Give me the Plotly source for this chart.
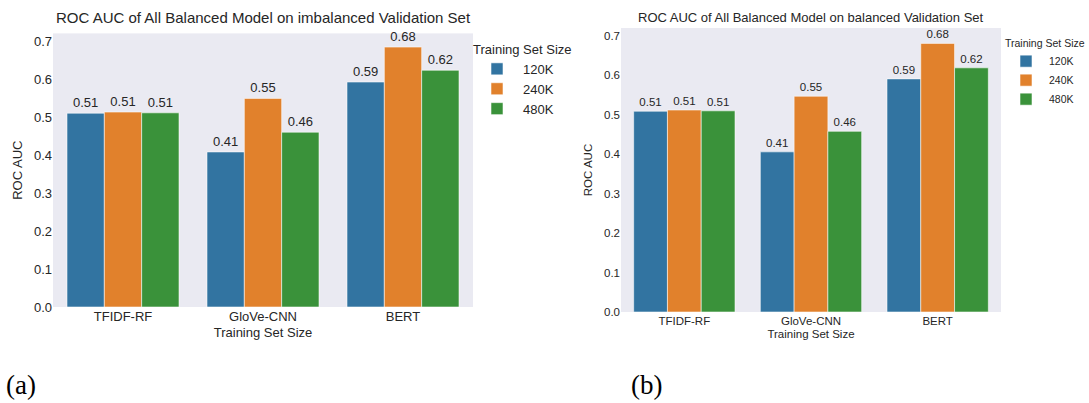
import plotly.graph_objects as go

categories = ["TFIDF-RF", "GloVe-CNN", "BERT"]
sizes = ["120K", "240K", "480K"]
imb_120k = [0.510, 0.408, 0.592]
imb_240k = [0.513, 0.549, 0.684]
imb_480k = [0.511, 0.460, 0.623]
bal_120k = [0.509, 0.406, 0.591]
bal_240k = [0.512, 0.547, 0.681]
bal_480k = [0.510, 0.458, 0.619]
colors = ["#3274a1", "#e1812c", "#3a923a"]

W, H = 1089, 403
FONT = "Liberation Sans, Arial, sans-serif"
TXT = "#262626"

fig = go.Figure()
left = [imb_120k, imb_240k, imb_480k]
right = [bal_120k, bal_240k, bal_480k]
for i, s in enumerate(sizes):
    fig.add_trace(go.Bar(
        x=categories, y=left[i], name=s, xaxis="x", yaxis="y",
        marker=dict(color=colors[i], line=dict(color="rgba(255,255,255,0.55)", width=1)),
        texttemplate="%{y:.2f}", textposition="outside", cliponaxis=False,
        constraintext="none", textfont=dict(size=13, color=TXT, family=FONT),
        legend="legend", offsetgroup=str(i)))
for i, s in enumerate(sizes):
    fig.add_trace(go.Bar(
        x=categories, y=right[i], name=s, xaxis="x2", yaxis="y2",
        marker=dict(color=colors[i], line=dict(color="rgba(255,255,255,0.55)", width=1)),
        texttemplate="%{y:.2f}", textposition="outside", cliponaxis=False,
        constraintext="none", textfont=dict(size=11.5, color=TXT, family=FONT),
        legend="legend2", offsetgroup=str(i)))

def px_x(p):
    return p / W

def px_y(p):
    return 1 - p / H

axis_common = dict(showgrid=False, zeroline=False, showline=False, ticks="", automargin=False)
fig.update_layout(
    width=W, height=H, margin=dict(l=0, r=0, t=0, b=0, autoexpand=False),
    paper_bgcolor="white", plot_bgcolor="#eaeaf2",
    barmode="group", bargap=0.2, bargroupgap=0,
    font=dict(family=FONT, color=TXT),
    xaxis=dict(domain=[px_x(53), px_x(473)], anchor="y", **axis_common,
               tickfont=dict(size=13), title=dict(text="Training Set Size", font=dict(size=13), standoff=4)),
    yaxis=dict(domain=[px_y(307), px_y(33.4)], anchor="x", range=[0, 0.72], dtick=0.1,
               tickformat=".1f", **axis_common, tickfont=dict(size=13),
               title=dict(text="ROC AUC", font=dict(size=13), standoff=8)),
    xaxis2=dict(domain=[px_x(621), px_x(1001)], anchor="y2", **axis_common,
                tickfont=dict(size=11.5), title=dict(text="Training Set Size", font=dict(size=11.5), standoff=4)),
    yaxis2=dict(domain=[px_y(312), px_y(28)], anchor="x2", range=[0, 0.72], dtick=0.1,
                tickformat=".1f", **axis_common, tickfont=dict(size=11.5),
                title=dict(text="ROC AUC", font=dict(size=11.5), standoff=8)),
    legend=dict(x=px_x(471), y=px_y(37), xanchor="left", yanchor="top",
                title=dict(text="Training Set Size", font=dict(size=13)),
                font=dict(size=13), bgcolor="rgba(0,0,0,0)", itemwidth=42),
    legend2=dict(x=px_x(1003), y=px_y(33), xanchor="left", yanchor="top",
                 title=dict(text="Training Set Size", font=dict(size=10.5)),
                 font=dict(size=10.5), bgcolor="rgba(0,0,0,0)", itemwidth=36),
    showlegend=True,
)

fig.add_annotation(text="ROC AUC of All Balanced Model on imbalanced Validation Set",
                   xref="paper", yref="paper", x=px_x(263), y=px_y(18),
                   xanchor="center", yanchor="middle", showarrow=False,
                   font=dict(size=15, color=TXT, family=FONT))
fig.add_annotation(text="ROC AUC of All Balanced Model on balanced Validation Set",
                   xref="paper", yref="paper", x=px_x(811), y=px_y(18),
                   xanchor="center", yanchor="middle", showarrow=False,
                   font=dict(size=13, color=TXT, family=FONT))
fig.add_annotation(text="(a)", xref="paper", yref="paper", x=px_x(4), y=px_y(385),
                   xanchor="left", yanchor="middle", showarrow=False,
                   font=dict(size=27, color="black", family="Liberation Serif, Times New Roman, serif"))
fig.add_annotation(text="(b)", xref="paper", yref="paper", x=px_x(629), y=px_y(385),
                   xanchor="left", yanchor="middle", showarrow=False,
                   font=dict(size=27, color="black", family="Liberation Serif, Times New Roman, serif"))

fig.write_html("out.html", config={"displayModeBar": False},
               post_script="document.body.style.margin='0px';")
